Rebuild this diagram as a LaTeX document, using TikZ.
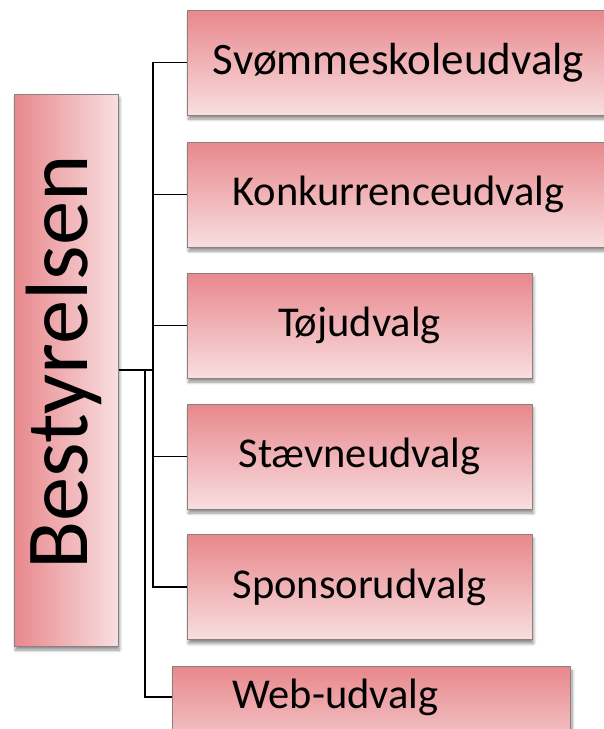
\documentclass[tikz,border=0pt]{standalone}
\usepackage{fontspec}
\setmainfont{Carlito}
\usetikzlibrary{shadows.blur}
\definecolor{topc}{RGB}{232,136,140}
\definecolor{botc}{RGB}{248,222,224}
\definecolor{edgec}{RGB}{140,128,128}
\begin{document}
\begin{tikzpicture}[x=1pt,y=-1pt,
  ubox/.style={draw=edgec, line width=1pt, top color=topc, bottom color=botc,
    blur shadow={shadow xshift=1.5pt, shadow yshift=-4pt, shadow blur steps=6, shadow blur radius=3pt, shadow opacity=45},
    minimum height=105pt, inner sep=0pt, font=\fontsize{42.5}{46}\selectfont},
  conn/.style={draw=black, line width=1.2pt}]
\useasboundingbox (0,0) rectangle (604,729);
\node[draw=edgec, line width=1pt, left color=topc, right color=botc,
  blur shadow={shadow xshift=1.5pt, shadow yshift=-4pt, shadow blur steps=6, shadow blur radius=3pt, shadow opacity=45},
  minimum width=104pt, minimum height=552pt, inner sep=0pt] (best) at (66,370) {};
\node[rotate=90, font=\fontsize{88.5}{92}\selectfont, inner sep=0pt] (bestt) at (64,362.5) {Bestyrelsen};
\node[ubox, minimum width=423pt, font=\fontsize{45}{48}\selectfont] (n1) at (398.5,62.5) {Svømmeskoleudvalg};
\node[ubox, minimum width=423pt] (n2) at (398.5,194.5) {Konkurrenceudvalg};
\node[ubox, minimum width=345pt] (n3) at (359.5,325.5) {Tøjudvalg};
\node[ubox, minimum width=345pt] (n4) at (359.5,456.5) {Stævneudvalg};
\node[ubox, minimum width=345pt] (n5) at (359.5,587) {Sponsorudvalg};
\node[ubox, minimum width=398pt, anchor=north west] (n6) at (172,666) {};
\node[font=\fontsize{42.5}{46}\selectfont, inner sep=0pt] (n6t) at (335.5,697) {Web-udvalg};
\coordinate (j1) at (153,370);
\coordinate (j2) at (145,370);
\draw[conn] (best.east) -- (j1);
\draw[conn] (j1) |- (n1.west);
\draw[conn] (j1) |- (n2.west);
\draw[conn] (j1) |- (n3.west);
\draw[conn] (j1) |- (n4.west);
\draw[conn] (j1) |- (n5.west);
\draw[conn] (j2) |- (n6.west |- n6t);
\end{tikzpicture}
\end{document}
